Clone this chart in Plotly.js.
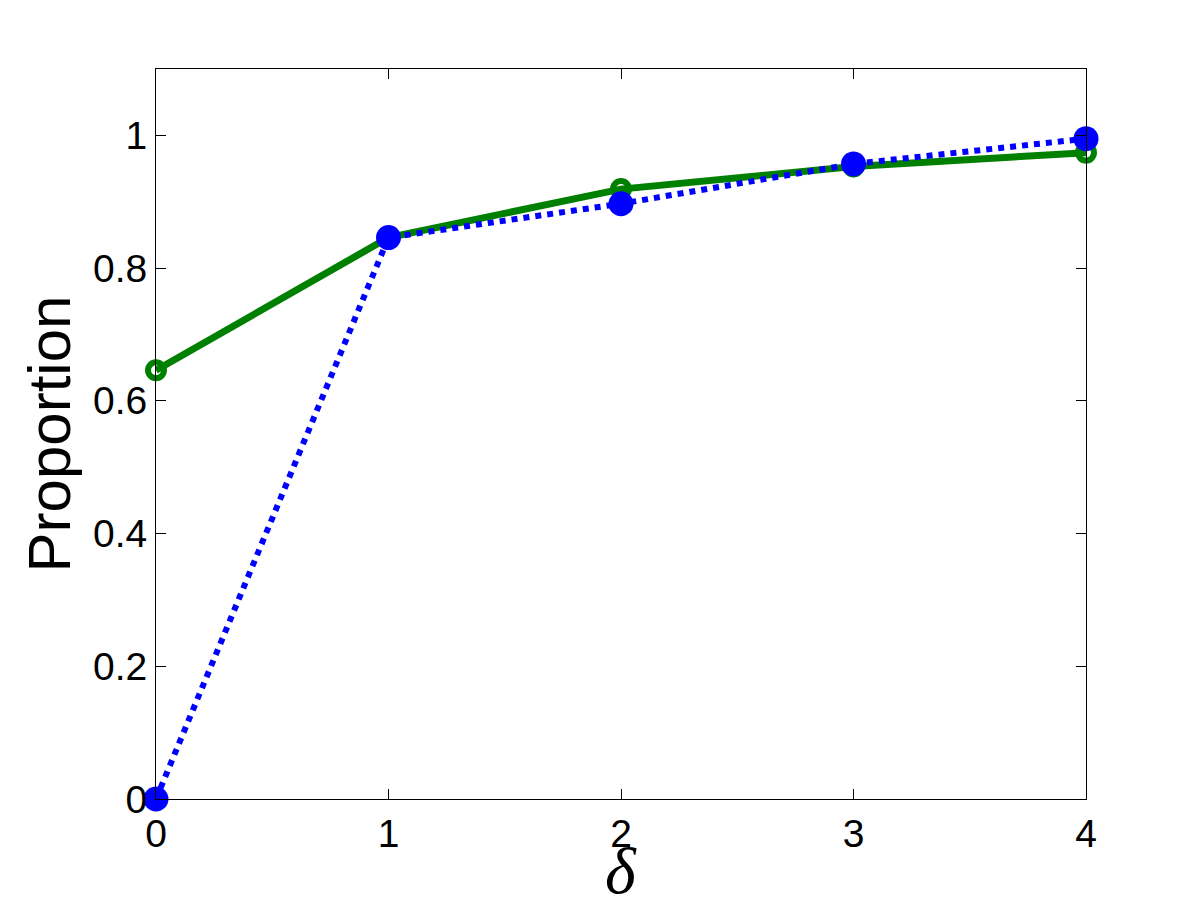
<!DOCTYPE html>
<html>
<head>
<meta charset="utf-8">
<script src="https://cdn.plot.ly/plotly-3.0.1.min.js"></script>
<style>html,body{margin:0;padding:0;background:#fff;}#chart{width:1200px;height:900px;}</style>
</head>
<body>
<div id="chart"></div>
<script>
const delta = [0, 1, 2, 3, 4];
const greenSeries = [0.646, 0.846, 0.919, 0.953, 0.974];
const blueSeries = [0.0, 0.846, 0.897, 0.957, 0.995];
const yTicks = [0, 0.2, 0.4, 0.6, 0.8, 1];
const yTickText = ['0', '0.2', '0.4', '0.6', '0.8', '1'];
const xTicks = [0, 1, 2, 3, 4];
const xLabel = 'δ';

const traces = [
  {
    x: delta, y: greenSeries, type: 'scatter', mode: 'lines+markers',
    line: {color: '#008000', width: 7},
    marker: {symbol: 'circle-open', size: 16, color: '#008000', line: {color: '#008000', width: 6}},
    cliponaxis: false, showlegend: false
  },
  {
    x: delta, y: blueSeries, type: 'scatter', mode: 'lines+markers',
    line: {color: '#0000ff', width: 6, dash: 'dot'},
    marker: {symbol: 'circle', size: 25, color: '#0000ff'},
    cliponaxis: false, showlegend: false
  }
];

const layout = {
  width: 1200, height: 900,
  paper_bgcolor: '#ffffff', plot_bgcolor: '#ffffff',
  margin: {l: 156, r: 114, t: 69, b: 101},
  font: {family: 'Liberation Sans, Arial, sans-serif', color: '#000'},
  xaxis: {
    range: [0, 4], tickvals: xTicks, ticktext: xTicks.map(String),
    ticks: 'inside', ticklen: 10, tickwidth: 1, tickcolor: '#000',
    showline: true, linecolor: '#000', linewidth: 1, mirror: 'ticks',
    showgrid: false, zeroline: false,
    tickfont: {size: 39, family: 'Liberation Sans, Arial, sans-serif'}
  },
  yaxis: {
    range: [0, 1.1], tickvals: yTicks, ticktext: yTickText,
    ticks: 'inside', ticklen: 10, tickwidth: 1, tickcolor: '#000',
    showline: true, linecolor: '#000', linewidth: 1, mirror: 'ticks',
    showgrid: false, zeroline: false,
    tickfont: {size: 39, family: 'Liberation Sans, Arial, sans-serif'},
    title: {text: 'Proportion', font: {size: 60, family: 'Liberation Sans, Arial, sans-serif'}, standoff: 2}
  },
  annotations: [{
    text: xLabel, xref: 'paper', yref: 'paper', x: 0.5, y: -0.098,
    xanchor: 'center', yanchor: 'middle', showarrow: false,
    font: {size: 66, family: 'Liberation Serif, Times New Roman, serif', style: 'italic', color: '#000'}
  }]
};

Plotly.newPlot('chart', traces, layout, {displayModeBar: false, staticPlot: true});
</script>
</body>
</html>
